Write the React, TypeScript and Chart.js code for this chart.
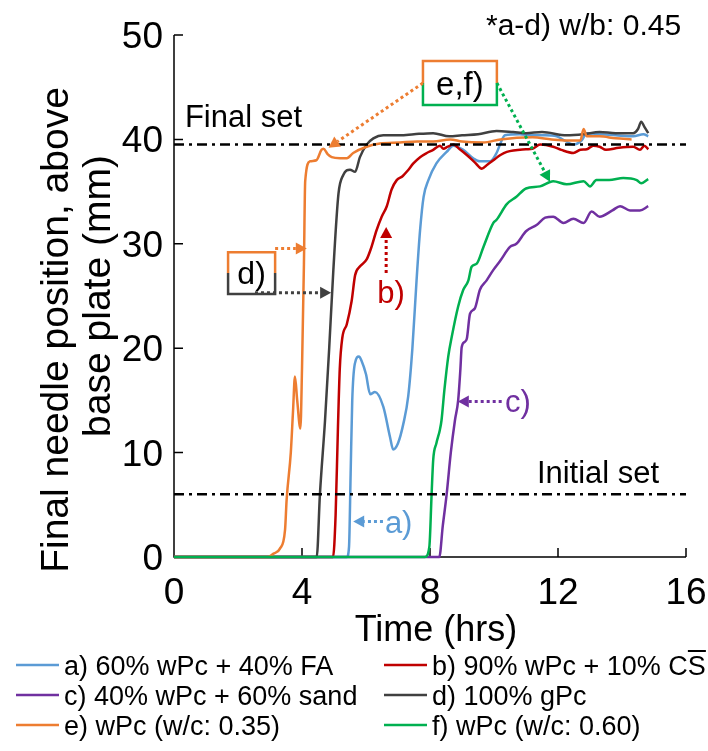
import React, { useEffect, useRef } from 'react';
import { Chart, registerables } from 'chart.js';

Chart.register(...registerables);

// ---------- data (time in hrs, needle position in mm) ----------
const A_T = [0, 5.40, 5.47, 5.52, 5.57, 5.65, 5.78, 5.86, 6.0, 6.13, 6.28, 6.54, 6.75, 6.85, 7.0, 7.17, 7.32, 7.45, 7.58, 7.69, 7.8, 7.95, 8.2, 8.52, 8.73, 9.04, 9.35, 9.56, 9.88, 10.08, 10.24, 10.34, 10.8, 11.2, 11.6, 11.96, 12.2, 12.48, 12.74, 12.9, 13.3, 13.8, 14.35, 14.67, 14.82];
const A_Y = [0, 0, 1, 8, 15, 18.5, 19.2, 18.8, 17.5, 15.6, 15.8, 14.4, 11.5, 10.3, 10.9, 12.8, 15.4, 20, 26.5, 31.3, 34.5, 36.1, 37.7, 38.8, 39.4, 39.0, 38.2, 37.9, 37.9, 38.7, 39.9, 40.4, 40.5, 40.4, 40.4, 40.3, 39.9, 39.5, 39.9, 40.6, 40.5, 40.4, 40.3, 40.5, 40.3];

const B_T = [0, 4.97, 5.05, 5.12, 5.18, 5.26, 5.40, 5.55, 5.66, 5.80, 6.02, 6.15, 6.33, 6.49, 6.65, 6.80, 6.96, 7.15, 7.30, 7.48, 7.69, 7.90, 8.10, 8.31, 8.42, 8.55, 8.73, 8.95, 9.15, 9.40, 9.62, 9.80, 9.98, 10.2, 10.4, 11.0, 11.2, 11.44, 11.85, 12.1, 12.48, 12.7, 12.9, 13.1, 13.3, 13.5, 13.9, 14.35, 14.56, 14.7, 14.82];
const B_Y = [0, 0, 4, 12, 18, 21, 22.3, 24.5, 27.0, 27.8, 28.5, 29.5, 31.3, 32.6, 33.6, 35.2, 36.1, 36.5, 37.0, 37.7, 38.3, 38.7, 39.0, 39.4, 39.1, 39.3, 39.5, 39.0, 38.5, 37.8, 37.2, 37.6, 38.0, 38.5, 38.8, 39.05, 39.1, 39.5, 39.3, 39.0, 38.7, 39.0, 39.05, 39.4, 39.3, 39.0, 39.2, 39.3, 39.0, 39.4, 39.05];

const C_T = [0, 8.29, 8.40, 8.52, 8.65, 8.78, 8.88, 8.95, 8.99, 9.08, 9.15, 9.25, 9.40, 9.56, 9.77, 9.98, 10.2, 10.5, 10.7, 11.0, 11.33, 11.6, 11.85, 12.17, 12.48, 12.8, 13.05, 13.3, 13.7, 13.94, 14.25, 14.56, 14.82];
const C_Y = [0, 0, 3, 6, 10, 13.1, 15.0, 18, 20.1, 20.6, 20.9, 23.3, 23.8, 25.6, 26.5, 27.5, 28.4, 29.7, 30.0, 31.2, 31.8, 32.5, 32.6, 32.0, 32.4, 32.0, 33.1, 32.6, 33.2, 33.6, 33.2, 33.2, 33.6];

const D_T = [0, 4.46, 4.56, 4.72, 4.85, 4.98, 5.14, 5.29, 5.50, 5.66, 5.81, 6.02, 6.23, 6.54, 7.06, 7.5, 8.1, 8.6, 9.0, 9.5, 10.08, 10.6, 11.0, 11.5, 12.27, 12.8, 13.3, 13.8, 14.35, 14.5, 14.6, 14.7, 14.82];
const D_Y = [0, 0, 6, 13.1, 20, 27.5, 34.8, 36.6, 37.1, 36.9, 38.3, 39.5, 40.1, 40.4, 40.4, 40.5, 40.6, 40.3, 40.4, 40.5, 40.8, 40.7, 40.6, 40.7, 40.4, 40.5, 40.7, 40.6, 40.6, 41.0, 41.7, 41.2, 40.6];

const E_T = [0, 2.94, 3.10, 3.31, 3.47, 3.52, 3.65, 3.72, 3.78, 3.85, 3.95, 4.00, 4.06, 4.10, 4.25, 4.45, 4.61, 4.67, 4.80, 4.93, 5.19, 5.40, 5.60, 6.02, 6.44, 7.06, 7.6, 8.1, 8.63, 9.0, 9.66, 10.2, 11.2, 11.8, 12.27, 12.7, 12.8, 12.9, 13.3, 13.8, 14.3];
const E_Y = [0, 0, 0.3, 0.8, 2.6, 5.5, 10, 14, 17.3, 15, 12.3, 18, 28, 36, 37.9, 38.0, 39.0, 39.1, 38.6, 38.3, 38.2, 38.2, 38.7, 39.3, 39.6, 39.7, 39.8, 39.8, 40.0, 39.8, 39.7, 40.0, 40.2, 40.0, 39.9, 39.9, 41.0, 40.3, 40.3, 40.1, 40.0];

const F_T = [0, 7.84, 7.98, 8.05, 8.10, 8.20, 8.31, 8.36, 8.45, 8.57, 8.68, 8.88, 9.04, 9.20, 9.30, 9.46, 9.67, 9.98, 10.08, 10.4, 10.7, 11.0, 11.44, 11.85, 12.27, 12.8, 13.0, 13.2, 13.6, 14.04, 14.46, 14.6, 14.82];
const F_Y = [0, 0, 1, 6, 9.3, 10.9, 12.2, 13.1, 16, 19.2, 21.1, 24.0, 25.6, 26.5, 27.8, 28.1, 29.7, 32.0, 32.3, 33.8, 34.5, 35.3, 35.5, 36.0, 35.7, 36.0, 35.5, 36.1, 36.1, 36.3, 36.1, 35.8, 36.2];

const LABELS = [
  'a) 60% wPc + 40% FA',
  'b) 90% wPc + 10% CS',
  'c) 40% wPc + 60% sand',
  'd) 100% gPc',
  'e) wPc (w/c: 0.35)',
  'f) wPc (w/c: 0.60)',
];
const X_TICKS = [0, 4, 8, 12, 16];
const Y_TICKS = [0, 10, 20, 30, 40, 50];
const FINAL_SET = 39.5;
const INITIAL_SET = 6;

// ---------- styling ----------
const W = 708;
const H = 751;
const FONT = "'Liberation Sans', Arial, Helvetica, sans-serif";
const COLORS = ['#5B9BD5', '#C00000', '#7030A0', '#404040', '#ED7D31', '#00B050'];
const SERIES = [
  { t: A_T, y: A_Y },
  { t: B_T, y: B_Y },
  { t: C_T, y: C_Y },
  { t: D_T, y: D_Y },
  { t: E_T, y: E_Y },
  { t: F_T, y: F_Y },
];

function drawText(ctx: CanvasRenderingContext2D, s: string, x: number, y: number, size: number, color: string, align: CanvasTextAlign = 'left', sx = 1) {
  ctx.save();
  ctx.font = `${size}px ${FONT}`;
  ctx.fillStyle = color;
  ctx.textAlign = align;
  ctx.textBaseline = 'alphabetic';
  ctx.translate(x, y);
  ctx.scale(sx, 1);
  ctx.fillText(s, 0, 0);
  ctx.restore();
}

function arrow(ctx: CanvasRenderingContext2D, x1: number, y1: number, x2: number, y2: number, color: string) {
  const ang = Math.atan2(y2 - y1, x2 - x1);
  const hl = 11;
  const hw = 6;
  const bx = x2 - hl * Math.cos(ang);
  const by = y2 - hl * Math.sin(ang);
  ctx.save();
  ctx.strokeStyle = color;
  ctx.lineWidth = 3;
  ctx.setLineDash([3, 3]);
  ctx.beginPath();
  ctx.moveTo(x1, y1);
  ctx.lineTo(bx, by);
  ctx.stroke();
  ctx.setLineDash([]);
  ctx.fillStyle = color;
  ctx.beginPath();
  ctx.moveTo(x2, y2);
  ctx.lineTo(bx + hw * Math.sin(ang), by - hw * Math.cos(ang));
  ctx.lineTo(bx - hw * Math.sin(ang), by + hw * Math.cos(ang));
  ctx.closePath();
  ctx.fill();
  ctx.restore();
}

function splitBox(ctx: CanvasRenderingContext2D, l: number, t: number, r: number, b: number, topColor: string, botColor: string) {
  const m = (t + b) / 2;
  ctx.save();
  ctx.lineWidth = 2.5;
  ctx.strokeStyle = topColor;
  ctx.beginPath();
  ctx.moveTo(l, m);
  ctx.lineTo(l, t);
  ctx.lineTo(r, t);
  ctx.lineTo(r, m);
  ctx.stroke();
  ctx.strokeStyle = botColor;
  ctx.beginPath();
  ctx.moveTo(l, m);
  ctx.lineTo(l, b);
  ctx.lineTo(r, b);
  ctx.lineTo(r, m);
  ctx.stroke();
  ctx.restore();
}

const decor = {
  id: 'decor',
  beforeDatasetsDraw(chart: any) {
    const ctx: CanvasRenderingContext2D = chart.ctx;
    const xs = chart.scales.x;
    const ys = chart.scales.y;
    const a = chart.chartArea;
    ctx.save();
    ctx.strokeStyle = '#000';
    ctx.lineWidth = 1.5;
    ctx.beginPath();
    ctx.moveTo(a.left, a.top);
    ctx.lineTo(a.left, a.bottom);
    ctx.lineTo(a.right, a.bottom);
    ctx.stroke();
    // inside tick marks
    ctx.beginPath();
    Y_TICKS.forEach((v) => {
      if (v === 0) return;
      const py = ys.getPixelForValue(v);
      ctx.moveTo(a.left, py);
      ctx.lineTo(a.left + 9, py);
    });
    X_TICKS.forEach((v) => {
      if (v === 0) return;
      const px = xs.getPixelForValue(v);
      ctx.moveTo(px, a.bottom);
      ctx.lineTo(px, a.bottom - 9);
    });
    ctx.stroke();
    ctx.restore();
    // tick labels
    Y_TICKS.forEach((v) => {
      drawText(ctx, String(v), a.left - 11, ys.getPixelForValue(v) + 13, 37, '#000', 'right');
    });
    X_TICKS.forEach((v) => {
      drawText(ctx, String(v), xs.getPixelForValue(v), a.bottom + 47, 37, '#000', 'center');
    });
  },
  afterDatasetsDraw(chart: any) {
    const ctx: CanvasRenderingContext2D = chart.ctx;
    const xs = chart.scales.x;
    const ys = chart.scales.y;
    const a = chart.chartArea;
    const X = (v: number) => xs.getPixelForValue(v);
    const Y = (v: number) => ys.getPixelForValue(v);

    // reference lines
    ctx.save();
    ctx.strokeStyle = '#000';
    ctx.lineWidth = 2.5;
    ctx.setLineDash([10, 5, 3, 5]);
    [FINAL_SET, INITIAL_SET].forEach((v) => {
      ctx.beginPath();
      ctx.moveTo(a.left, Y(v));
      ctx.lineTo(a.right, Y(v));
      ctx.stroke();
    });
    ctx.restore();

    drawText(ctx, 'Final set', X(0.34), Y(41.2), 31, '#000');
    drawText(ctx, 'Initial set', X(11.34), Y(7.1), 31, '#000');
    drawText(ctx, '*a-d) w/b: 0.45', X(9.75), Y(50), 30, '#000');

    // a)
    arrow(ctx, X(6.53), Y(3.4), X(5.6), Y(3.4), COLORS[0]);
    drawText(ctx, 'a)', X(6.59), Y(3.4) + 11, 31, COLORS[0]);
    // b)
    arrow(ctx, X(6.63), Y(27.2), X(6.63), Y(31.6), COLORS[1]);
    drawText(ctx, 'b)', X(6.78), Y(25.4) + 11, 31, COLORS[1], 'center');
    // c)
    arrow(ctx, X(10.24), Y(14.9), X(8.87), Y(14.9), COLORS[2]);
    drawText(ctx, 'c)', X(10.34), Y(14.9) + 11, 31, COLORS[2]);
    // d) box
    splitBox(ctx, X(1.69), Y(29.2), X(3.16), Y(25.2), COLORS[4], COLORS[3]);
    drawText(ctx, 'd)', (X(1.69) + X(3.16)) / 2, Y(27.2) + 11, 32, '#000', 'center');
    arrow(ctx, X(3.16), Y(29.55), X(4.15), Y(29.55), COLORS[4]);
    arrow(ctx, X(2.53), Y(25.3), X(4.91), Y(25.3), COLORS[3]);
    // e,f) box
    splitBox(ctx, X(7.78), Y(47.5), X(10.09), Y(43.3), COLORS[4], COLORS[5]);
    drawText(ctx, 'e,f)', (X(7.78) + X(10.09)) / 2, Y(45.4) + 12, 33, '#000', 'center');
    arrow(ctx, X(7.78), Y(45.4), X(4.83), Y(39.2), COLORS[4]);
    arrow(ctx, X(10.09), Y(45.4), X(11.75), Y(35.95), COLORS[5]);

    // axis titles
    ctx.save();
    ctx.font = `39px ${FONT}`;
    ctx.fillStyle = '#000';
    ctx.textAlign = 'center';
    ctx.textBaseline = 'middle';
    ctx.translate(57, 0);
    ctx.rotate(-Math.PI / 2);
    ctx.fillText('Final needle position, above', -330, 0);
    ctx.fillText('base plate (mm)', -296, 42);
    ctx.restore();
    drawText(ctx, 'Time (hrs)', 436, 641, 36, '#000', 'center');

    // legend (two columns, three rows)
    const colLine = [16, 384];
    const colText = [64, 432];
    const rowBase = [675, 705, 735];
    LABELS.forEach((lab, i) => {
      const c = i % 2;
      const r = Math.floor(i / 2);
      const yc = rowBase[r] - 10;
      ctx.save();
      ctx.strokeStyle = COLORS[i];
      ctx.lineWidth = 2.5;
      ctx.beginPath();
      ctx.moveTo(colLine[c], yc);
      ctx.lineTo(colLine[c] + 43, yc);
      ctx.stroke();
      ctx.restore();
      drawText(ctx, lab, colText[c], rowBase[r], 27, '#000');
      if (i === 1) {
        ctx.save();
        ctx.font = `27px ${FONT}`;
        const full = ctx.measureText(lab).width;
        const sw = ctx.measureText('S').width;
        ctx.strokeStyle = '#000';
        ctx.lineWidth = 2;
        ctx.beginPath();
        ctx.moveTo(colText[c] + full - sw, rowBase[r] - 24);
        ctx.lineTo(colText[c] + full, rowBase[r] - 24);
        ctx.stroke();
        ctx.restore();
      }
    });
  },
};

export default function App() {
  const ref = useRef<HTMLCanvasElement>(null);
  useEffect(() => {
    const canvas = ref.current;
    if (!canvas) return;
    const chart = new Chart(canvas, {
      type: 'line',
      data: {
        datasets: SERIES.map((s, i) => ({
          label: LABELS[i],
          data: s.t.map((t, k) => ({ x: t, y: s.y[k] })),
          borderColor: COLORS[i],
          backgroundColor: COLORS[i],
          borderWidth: 2.5,
          pointRadius: 0,
          cubicInterpolationMode: 'monotone' as const,
          fill: false,
          clip: 10,
          order: SERIES.length - i,
        })),
      },
      options: {
        animation: false,
        responsive: false,
        devicePixelRatio: 1,
        layout: { padding: { left: 0, top: 35, right: 22, bottom: 154 } },
        plugins: { legend: { display: false }, tooltip: { enabled: false } },
        scales: {
          x: {
            type: 'linear',
            min: 0,
            max: 16,
            ticks: { stepSize: 4, display: false },
            grid: { display: false, drawTicks: false },
            border: { display: false },
            afterFit: (s: any) => { s.height = 40; },
          },
          y: {
            type: 'linear',
            min: 0,
            max: 50,
            ticks: { stepSize: 10, display: false },
            grid: { display: false, drawTicks: false },
            border: { display: false },
            afterFit: (s: any) => { s.width = 174; },
          },
        },
      },
      plugins: [decor],
    });
    return () => chart.destroy();
  }, []);
  return (
    <div style={{ position: 'absolute', left: 0, top: 0, width: W, height: H, background: '#fff' }}>
      <canvas ref={ref} width={W} height={H} style={{ display: 'block', width: W, height: H }} />
    </div>
  );
}
